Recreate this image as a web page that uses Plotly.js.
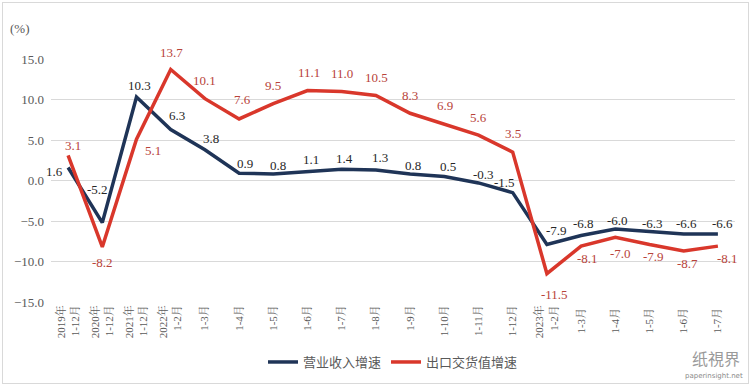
<!DOCTYPE html>
<html>
<head>
<meta charset="utf-8">
<script src="https://cdn.plot.ly/plotly-3.0.1.min.js"></script>
<style>
html,body{margin:0;padding:0;background:#fff;}
#wrap{position:relative;width:754px;height:392px;}
#chart{width:754px;height:392px;}
#frame{position:absolute;left:2px;top:2px;width:745px;height:380px;border:1px solid #d9d9d9;pointer-events:none;}
</style>
</head>
<body>
<div id="wrap"><div id="chart"></div><div id="frame"></div></div>
<script>
const categories = ["2019年<br>1-12月","2020年<br>1-12月","2021年<br>1-12月","2022年<br>1-2月","1-3月","1-4月","1-5月","1-6月","1-7月","1-8月","1-9月","1-10月","1-11月","1-12月","2023年<br>1-2月","1-3月 ","1-4月 ","1-5月 ","1-6月 ","1-7月 "];
const revenueGrowth = [1.6,-5.2,10.3,6.3,3.8,0.9,0.8,1.1,1.4,1.3,0.8,0.5,-0.3,-1.5,-7.9,-6.8,-6.0,-6.3,-6.6,-6.6];
const exportGrowth = [3.1,-8.2,5.1,13.7,10.1,7.6,9.5,11.1,11.0,10.5,8.3,6.9,5.6,3.5,-11.5,-8.1,-7.0,-7.9,-8.7,-8.1];
const seriesNames = ["营业收入增速","出口交货值增速"];

// label offsets (pixels) – styling only
const navyDx = [-14,-5,3,6,6,6,5,3,3,4,3,4,5,-8,10,2,2,3,3,5];
const navyDy = [-4,33,12,14,11,10,9,12,11,12,9,10,8,10,14,12,9,8,10,10];
const redDx = [5,0,16,1,0,3,0,1,0,1,0,1,0,0,8,6,5,4,4,10];
const redDy = [10,-16,-11,17,18,19,18,18,18,18,18,19,18,19,-21,-12,-16,-12,-13,-12];

const idx = categories.map((c,i)=>i);
const serif = "Liberation Serif, Noto Serif CJK SC, serif";

const traces = [
  {x: idx, y: revenueGrowth, name: seriesNames[0], type:'scatter', mode:'lines',
   line:{color:'#1f3457', width:3.5}},
  {x: idx, y: exportGrowth, name: seriesNames[1], type:'scatter', mode:'lines',
   line:{color:'#d9372b', width:3.5}}
];

const labelAnns = [];
revenueGrowth.forEach((v,i)=>labelAnns.push({x:idx[i], y:v, xref:'x', yref:'y', text:v.toFixed(1),
  showarrow:false, xshift:navyDx[i], yshift:navyDy[i], xanchor:'center', yanchor:'middle',
  font:{family:serif, size:13, color:'#262626'}}));
exportGrowth.forEach((v,i)=>labelAnns.push({x:idx[i], y:v, xref:'x', yref:'y', text:v.toFixed(1),
  showarrow:false, xshift:redDx[i], yshift:redDy[i], xanchor:'center', yanchor:'middle',
  font:{family:serif, size:13, color:'#b8433a'}}));

const layout = {
  width:754, height:392,
  margin:{l:51, r:19, t:59, b:90},
  paper_bgcolor:'#fff', plot_bgcolor:'#fff',
  showlegend:true,
  legend:{orientation:'h', x:0.5, xanchor:'center', y:-0.247, yanchor:'middle',
    font:{family:"Noto Sans CJK SC, Noto Sans, sans-serif", size:13, color:'#595959'},
    itemwidth:30, tracegroupgap:0},
  xaxis:{range:[-0.5,19.5], tickmode:'array', tickvals:idx, ticktext:categories,
    tickangle:-90, showgrid:false, zeroline:false, showline:false, ticks:'',
    tickfont:{family:serif, size:11, color:'#595959'}},
  yaxis:{range:[-15,15], dtick:5, tick0:0, tickformat:'.1f', showgrid:true,
    gridcolor:'#d9d9d9', gridwidth:1, zeroline:false, showline:false, ticks:'',
    ticklabelstandoff:6,
    tickfont:{family:serif, size:13, color:'#595959'}},
  annotations:labelAnns.concat([
    {text:'(%)', xref:'paper', yref:'paper', x:-0.045, y:1.125, xanchor:'center', yanchor:'middle',
     showarrow:false, font:{family:serif, size:13, color:'#595959'}},
    {text:'纸視界', xref:'paper', yref:'paper', x:1.01, y:-0.23, xanchor:'right', yanchor:'middle',
     showarrow:false, font:{family:"Noto Sans CJK SC, sans-serif", size:16, color:'#9a9a9a'}},
    {text:'paperinsight.net', xref:'paper', yref:'paper', x:1.015, y:-0.305, xanchor:'right', yanchor:'middle',
     showarrow:false, font:{family:"DejaVu Sans, sans-serif", size:7, color:'#8a8a8a'}}
  ])
};
Plotly.newPlot('chart', traces, layout, {displayModeBar:false, staticPlot:true});
</script>
</body>
</html>
